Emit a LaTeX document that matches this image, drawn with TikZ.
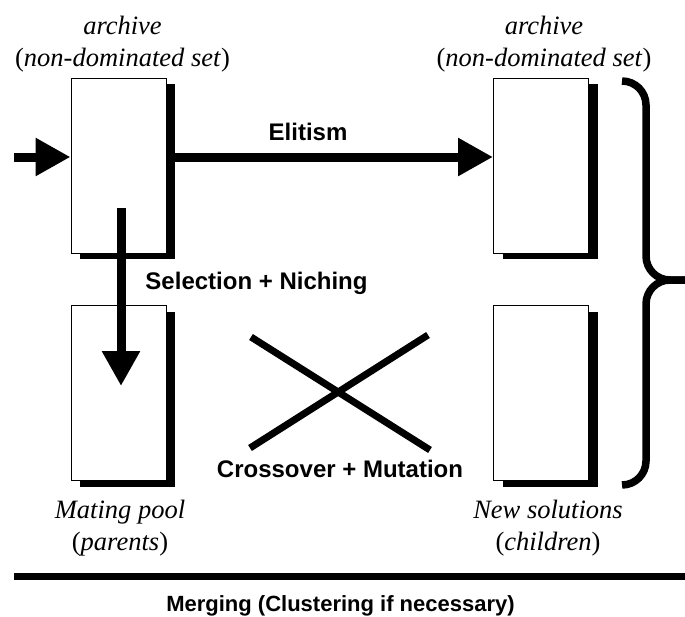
\documentclass[tikz,border=0pt]{standalone}
\usepackage{fontspec}
\setmainfont{Liberation Serif}
\setsansfont{Liberation Sans}
\usetikzlibrary{arrows.meta}
\tikzset{pool/.style={draw, line width=1pt, fill=white, minimum width=95pt, minimum height=175pt, inner sep=0pt,
    preaction={fill=black, transform canvas={xshift=9pt, yshift=-6pt}}}}
\tikzset{flow/.style={line width=9pt, -{Triangle[length=35pt, width=36pt]}}}
\tikzset{thickline/.style={line width=7pt}}
\tikzset{poollabel/.style={font=\fontsize{26.5}{32}\selectfont, align=center, inner sep=0pt, anchor=north}}
\tikzset{steplabel/.style={font=\fontsize{24}{28}\selectfont\sffamily\bfseries, inner sep=0pt, anchor=base}}

\begin{document}
\begin{tikzpicture}[x=1pt, y=-1pt]
            \useasboundingbox (0,0) rectangle (685,616);
            \node[pool] (archive) at (118.5,165.5) {};
            \node[pool] (newarchive) at (541,165.5) {};
            \node[pool] (matingpool) at (118.5,393) {};
            \node[pool] (children) at (541,393) {};
            \node[poollabel] (archivetext) at (122.5,16) {\textit{archive}\\(\textit{non-dominated set})};
            \node[poollabel] (newarchivetext) at (544,16) {\textit{archive}\\(\textit{non-dominated set})};
            \node[poollabel] (matingtext) at (120,500) {\textit{Mating pool}\\(\textit{parents})};
            \node[poollabel] (childrentext) at (548,500) {\textit{New solutions}\\(\textit{children})};
            \coordinate (input) at (14,157);
            \draw[flow] (input) -- (input -| archive.west);
            \draw[flow] (input -| archive.east) -- (input -| newarchive.west);
            \node[steplabel] (elitism) at (308,140) {Elitism};
            \coordinate (selstart) at (121,208);
            \coordinate (selend) at (121,386);
            \draw[flow] (selstart) -- (selend);
            \node[steplabel] (selection) at (256.5,289) {Selection + Niching};
            \draw[thickline] (251,337) -- (430,450) (250,448) -- (428,335);
            \node[steplabel] (crossover) at (340,477) {Crossover + Mutation};
            \draw[line width=7.5pt, rounded corners=24pt] (622,81) -| (646,280) -- (685,280);
            \draw[line width=7.5pt, rounded corners=24pt] (685,280) -| (646,485) -- (622,485);
            \draw[thickline] (14,576) -- (685,576);
            \node[steplabel, font=\fontsize{22}{26}\selectfont\sffamily\bfseries] (merging) at (340.5,611) {Merging (Clustering if necessary)};
        \end{tikzpicture}
\end{document}
